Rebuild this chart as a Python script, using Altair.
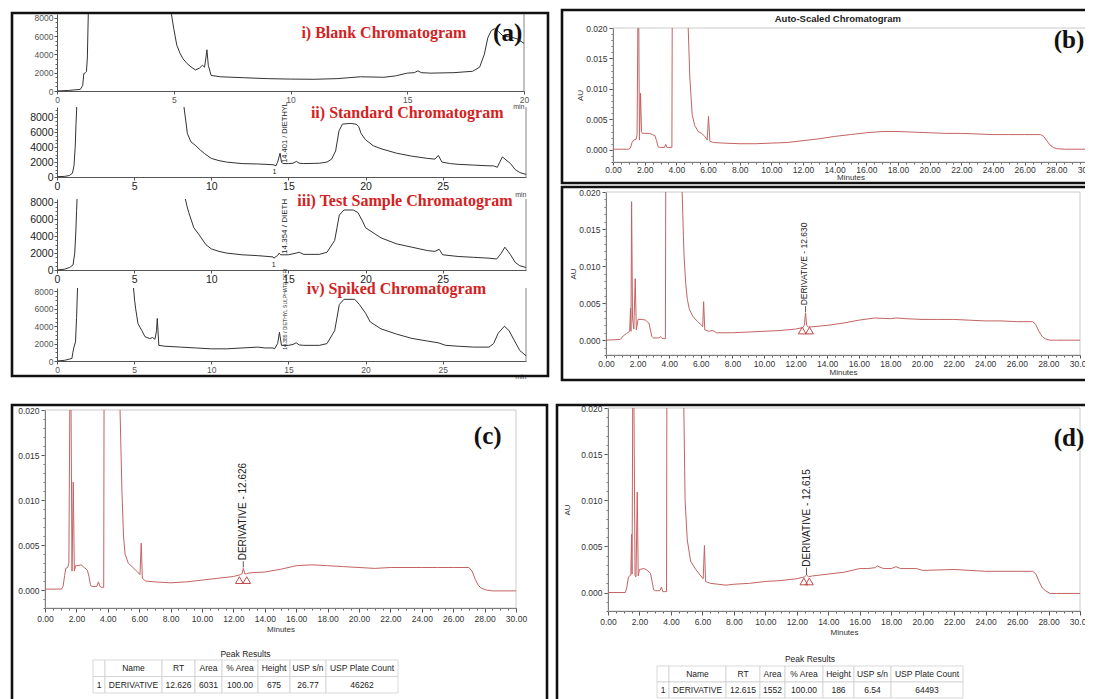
import altair as alt
import pandas as pd

OFF = 8            # page margin
W, H = 1077, 691   # whole drawing area

# ------------------------------------------------------------------ data
# (a) i) Blank chromatogram  (min, response)   None = trace leaves the plot
A1_T = [0, 0.5, 1.0, 1.1, 1.15, 1.22, 1.26, 1.3, 1.34, None,
        4.9, 5.0, 5.13, 5.27, 5.4, 5.57, 5.75, 5.93, 6.1, 6.23, 6.32, 6.37, 6.42, 6.48, 6.6,
        7, 8, 9, 10, 11, 12, 12.5, 13, 14, 14.5, 15, 15.3, 15.46, 15.6, 16, 17, 17.8,
        18.1, 18.3, 18.45, 18.6, 18.75, 18.9, 19.1, 19.4, 19.7, 20]
A1_Y = [0, 60, 180, 600, 1900, 2000, 2100, 3600, 8400, None,
        8400, 6800, 5000, 4100, 3500, 3000, 2600, 2300, 2500, 2800, 2600, 3500, 4500, 2800, 1700,
        1550, 1450, 1350, 1300, 1280, 1350, 1450, 1550, 1500, 1650, 1950, 2000, 2200, 2000, 1950, 2000, 2150,
        2600, 4000, 5800, 6600, 6800, 6500, 6000, 5900, 5700, 5200]
# (a) ii) Standard chromatogram
A2_T = [0, 0.5, 0.8, 1.0, 1.1, 1.18, 1.23, 1.28, None,
        8.23, 8.35, 8.45, 8.68, 9.0, 9.3, 9.56, 10, 10.5, 11, 12, 13, 14,
        14.19, 14.3, 14.46, 14.55, 14.64, 15, 15.3, 15.52, 15.7, 16, 17, 17.5,
        17.8, 18.06, 18.28, 18.5, 19.0, 19.38, 19.55, 19.71, 20, 20.5, 21, 22, 23, 24,
        24.5, 24.72, 24.95, 25.5, 26, 27, 28, 28.3, 28.54, 28.7, 28.87, 29.1, 29.4, 29.7, 30, 30.4]
A2_Y = [50, 80, 200, 500, 1500, 4000, 7000, 9400, None,
        9400, 7500, 5840, 4720, 4200, 3600, 3150, 2500, 2200, 2000, 1800, 1750, 1650,
        1500, 2000, 3200, 2000, 1800, 1800, 1850, 2100, 1850, 1800, 1850, 2000,
        2400, 3500, 6200, 7100, 7200, 7100, 6800, 5840, 5000, 4200, 3800, 3200, 2800, 2500,
        2400, 2900, 2000, 1800, 1700, 1600, 1500, 1500, 1300, 2000, 2700, 2300, 1800, 1000, 600, 350]
# (a) iii) Test sample chromatogram
A3_T = [0, 0.5, 0.82, 1.04, 1.15, 1.22, 1.27, 1.3, None,
        8.32, 8.42, 8.54, 8.87, 9.2, 9.65, 10, 10.5, 11, 12, 13, 14,
        14.06, 14.2, 14.3, 14.4, 14.5, 15, 15.5, 15.7, 16, 17, 17.5,
        18, 18.3, 18.6, 19.2, 19.5, 19.8, 20, 21, 22, 23, 24,
        24.5, 24.77, 25.0, 26, 27, 28, 28.5, 28.8, 29.03, 29.4, 29.7, 30, 30.4]
A3_Y = [0, 100, 300, 600, 2000, 4500, 7000, 8400, None,
        8400, 7600, 6800, 5000, 4200, 3000, 2500, 2200, 2000, 1800, 1700, 1550,
        1400, 1600, 1700, 2000, 1800, 1800, 2000, 2100, 1850, 1850, 2100,
        3500, 6500, 7100, 7100, 6800, 5800, 5000, 3800, 3100, 2700, 2300,
        2200, 2450, 1800, 1600, 1500, 1400, 1300, 2000, 2700, 1800, 900, 500, 300]
# (a) iv) Spiked chromatogram
A4_T = [0, 0.5, 0.97, 1.03, 1.1, 1.2, 1.27, 1.33, None,
        4.96, 5.03, 5.1, 5.25, 5.5, 5.7, 6.0, 6.2, 6.35, 6.45, 6.5, 6.6,
        7, 8, 9, 10, 11, 12, 13, 13.5, 14, 14.1, 14.3, 14.42, 14.55,
        15, 15.3, 15.5, 15.7, 16, 17, 17.5, 18, 18.3, 18.6, 19.3, 19.6, 20, 20.3,
        21, 22, 23, 24, 24.7, 25.2, 26, 27, 28, 28.3, 28.6, 29.0, 29.3, 29.6, 30, 30.4]
A4_Y = [0, 80, 300, 1000, 1600, 2200, 5000, 8400, None,
        8400, 7000, 6000, 4300, 3500, 2800, 2580, 2700, 2500, 3500, 4900, 1800,
        1700, 1600, 1500, 1400, 1400, 1500, 1600, 1500, 1500, 1400, 2000, 3300, 1800,
        1800, 1900, 2100, 1850, 1800, 1800, 2000, 3500, 6500, 7100, 7100, 6500, 5500, 4500,
        3700, 3100, 2600, 2300, 2100, 1800, 1700, 1600, 1600, 2000, 3200, 4000, 3500, 2500, 1200, 600]

# (b) auto-scaled chromatogram (min, AU)
B_T = [0, 1.0, 1.1, 1.2, 1.3, 1.45, 1.52, 1.57, None,
       1.63, 1.67, 1.74, 1.8, 1.86, 2.0, 2.3, 2.5, 2.65, 2.75, 2.85, 2.95, 3.25, 3.33, 3.4, 3.5, 3.72, 3.74, None,
       4.75, 4.85, 5.0, 5.16, 5.38, 5.6, 5.8, 5.95, 6.03, 6.12, 6.35, 7, 8, 9, 10, 11, 12, 13, 14, 15,
       16, 17, 18, 19, 20, 21, 22, 23, 24, 25, 26, 27, 27.2, 27.4, 27.6, 27.8, 28.0, 28.5, 30]
B_AU = [0.0001, 0.0001, 0.0003, 0.0012, 0.0016, 0.0017, 0.0025, 0.020, None,
        0.020, 0.0016, 0.0093, 0.0030, 0.0027, 0.0027, 0.0027, 0.0025, 0.0023, 0.0015, 0.0005, 0.0004, 0.0004, 0.0009, 0.0004, 0.0004, 0.0004, 0.020, None,
        0.020, 0.012, 0.0058, 0.0040, 0.0030, 0.0027, 0.0022, 0.0016, 0.0055, 0.0014, 0.0012, 0.0011, 0.0010, 0.0010, 0.0011, 0.0012, 0.0015, 0.0018, 0.0022, 0.0025,
        0.0028, 0.0030, 0.0030, 0.0029, 0.0028, 0.0027, 0.0027, 0.0026, 0.0025, 0.0025, 0.0025, 0.0025, 0.0022, 0.0015, 0.0008, 0.0004, 0.0002, 0.0001, 0.0001]
# (b) lower chromatogram with derivative peak
B2_T = [0, 0.9, 1.1, 1.3, 1.5, 1.55, 1.58, 1.62, 1.68, 1.76, 1.85, 1.92, 2.03, 2.3, 2.5, 2.6, 2.72, 2.8, 2.9, 3.0, 3.35, 3.45, 3.52, 3.6, 3.76, 3.78, None,
        4.82, 4.9, 4.95, 5.05, 5.15, 5.27, 5.5, 5.8, 6.05, 6.12, 6.18, 6.25, 6.5, 6.75, 6.85, 7, 8, 9, 10, 11, 12,
        12.45, 12.55, 12.63, 12.7, 12.8, 13, 14, 15, 16, 17, 18, 18.4, 19, 20, 21, 22, 23, 24, 25, 26, 27,
        27.2, 27.4, 27.6, 27.8, 28.1, 28.5, 30]
B2_AU = [0.0000, 0.0001, 0.0006, 0.0009, 0.0012, 0.0043, 0.0012, 0.0187, 0.0030, 0.0015, 0.0083, 0.0014, 0.0028, 0.0028, 0.0027, 0.0025, 0.0023, 0.0015, 0.0005, 0.0003, 0.0003, 0.0005, 0.0003, 0.0002, 0.0002, 0.020, None,
         0.020, 0.014, 0.011, 0.0075, 0.0055, 0.0042, 0.0032, 0.0025, 0.0020, 0.0018, 0.0052, 0.0014, 0.0012, 0.0013, 0.0012, 0.0010, 0.0010, 0.0011, 0.0012, 0.0013, 0.0015,
         0.0017, 0.0020, 0.0037, 0.0020, 0.0018, 0.0018, 0.0020, 0.0023, 0.0027, 0.0030, 0.0029, 0.0030, 0.0029, 0.0028, 0.0028, 0.0028, 0.0027, 0.0026, 0.0026, 0.0025, 0.0025,
         0.0021, 0.0012, 0.0005, 0.0002, 0.0000, 0.0000, 0.0000]
# (c)
C_T = [0, 1.05, 1.15, 1.25, 1.32, 1.45, 1.52, 1.58, None,
       1.66, 1.72, 1.8, 1.87, 1.95, 2.1, 2.3, 2.5, 2.7, 2.8, 2.9, 3.0, 3.3, 3.4, 3.5, 3.6, 3.74, 3.76, None,
       4.78, 4.9, 5.0, 5.1, 5.3, 5.6, 5.9, 6.05, 6.13, 6.2, 6.4, 7, 8, 9, 10, 11, 12,
       12.45, 12.55, 12.63, 12.72, 12.85, 13, 14, 15, 16, 17, 18, 19, 20, 21, 22, 23, 24, 25, 26, 27,
       27.2, 27.4, 27.6, 27.8, 28.1, 28.5, 30]
C_AU = [0.0001, 0.0001, 0.0004, 0.0016, 0.0024, 0.0025, 0.0030, 0.020, None,
        0.020, 0.0021, 0.0120, 0.0021, 0.0027, 0.0027, 0.0028, 0.0025, 0.0022, 0.0015, 0.0005, 0.0004, 0.0004, 0.0009, 0.0004, 0.0003, 0.0003, 0.020, None,
        0.020, 0.011, 0.006, 0.0040, 0.0030, 0.0025, 0.0020, 0.0017, 0.0052, 0.0013, 0.0010, 0.0009, 0.0008, 0.0009, 0.0011, 0.0013, 0.0015,
        0.0017, 0.0018, 0.0024, 0.0018, 0.0018, 0.0019, 0.0020, 0.0023, 0.0027, 0.0028, 0.0027, 0.0026, 0.0025, 0.0024, 0.0025, 0.0025, 0.0025, 0.0025, 0.0025, 0.0025,
        0.0021, 0.0012, 0.0005, 0.0002, 0.0000, -0.0001, -0.0001]
# (d)
D_T = [0, 1.1, 1.2, 1.3, 1.45, 1.5, 1.53, 1.57, None,
       1.65, 1.72, 1.78, 1.86, 1.92, 2.0, 2.3, 2.5, 2.7, 2.8, 2.9, 3.0, 3.3, 3.4, 3.48, 3.6, 3.72, 3.74, None,
       4.82, 4.9, 5.04, 5.25, 5.58, 5.9, 6.05, 6.13, 6.2, 6.5, 7, 7.5, 8, 9, 10, 11, 12,
       12.5, 12.62, 12.75, 13, 14, 15, 16, 16.5, 17, 17.1, 17.5, 18, 18.3, 18.6, 19, 19.6, 20, 22, 24, 26, 27,
       27.2, 27.4, 27.6, 27.8, 28.1, 28.5, 30]
D_AU = [0.0000, 0.0000, 0.0006, 0.0017, 0.0019, 0.0063, 0.0020, 0.020, None,
        0.020, 0.0018, 0.0017, 0.0109, 0.0018, 0.0025, 0.0026, 0.0024, 0.0021, 0.0012, 0.0003, 0.0002, 0.0002, 0.0006, 0.0001, 0.0001, 0.0001, 0.020, None,
        0.020, 0.010, 0.0057, 0.0034, 0.0025, 0.0018, 0.0015, 0.0051, 0.0012, 0.0010, 0.0009, 0.0008, 0.0009, 0.0010, 0.0012, 0.0013, 0.0015,
        0.0017, 0.0019, 0.0017, 0.0018, 0.0020, 0.0022, 0.0026, 0.0026, 0.0027, 0.0029, 0.0026, 0.0026, 0.0028, 0.0026, 0.0026, 0.0026, 0.0024, 0.0025, 0.0023, 0.0023, 0.0023,
        0.0020, 0.0012, 0.0005, 0.0002, -0.0001, -0.0001, -0.0001]

# peak baseline markers (triangles)
B2_MARK_T, B2_MARK_AU = [12.42, 12.88], [0.0013, 0.0013]
C_MARK_T, C_MARK_AU = [12.38, 12.85], [0.0011, 0.0011]
D_MARK_T, D_MARK_AU = [12.45, 12.80], [0.0012, 0.0012]

# peak labels
B2_LABEL, C_LABEL, D_LABEL = "DERIVATIVE - 12.630", "DERIVATIVE - 12.626", "DERIVATIVE - 12.615"
A2_LABEL, A3_LABEL, A4_LABEL = "14.401 / DIETHYL", "14.354 / DIETH", "14.385 / DIETHYL SULPHATE DERI"
A_TITLES = ["i) Blank Chromatogram", "ii) Standard Chromatogram",
            "iii) Test Sample Chromatogram", "iv) Spiked Chromatogram"]

# peak result tables
TABLE_HEAD = ["", "Name", "RT", "Area", "% Area", "Height", "USP s/n", "USP Plate Count"]
C_ROW = ["1", "DERIVATIVE", "12.626", "6031", "100.00", "675", "26.77", "46262"]
D_ROW = ["1", "DERIVATIVE", "12.615", "1552", "100.00", "186", "6.54", "64493"]

# ------------------------------------------------------------------ layout
GEOM = {
    "A1": dict(x=(0, 20), xr=(57, 524), y=(0, 8400), yr=(91, 14)),
    "A2": dict(x=(0, 30.4), xr=(57, 526), y=(0, 9400), yr=(177, 107)),
    "A3": dict(x=(0, 30.4), xr=(57, 526), y=(0, 8400), yr=(270, 199)),
    "A4": dict(x=(0, 30.4), xr=(57, 526), y=(0, 8400), yr=(361, 288)),
    "B": dict(x=(0, 30), xr=(613, 1088), y=(-0.002, 0.020), yr=(162, 28)),
    "B2": dict(x=(0, 30), xr=(606, 1080), y=(-0.002, 0.020), yr=(355, 192)),
    "C": dict(x=(0, 30), xr=(45, 516), y=(-0.002, 0.020), yr=(608, 410)),
    "D": dict(x=(0, 30), xr=(608, 1080), y=(-0.002, 0.020), yr=(611, 408)),
}
C_COLW = [12, 57, 33, 27, 36, 32, 36, 72]
D_COLW = [12, 57, 34, 25, 38, 31, 37, 72]

RED = "#c46363"
TRI = "#c04848"
DARK = "#333333"
TITLE_RED = "#d42222"
SANS = "Liberation Sans"
SERIF = "Liberation Serif"


def tdf(ts, vs):
    assert len(ts) == len(vs), (len(ts), len(vs))
    rows, seg = [], 0
    for t, v in zip(ts, vs):
        if t is None or v is None:
            assert t is None and v is None
            seg += 1
            continue
        rows.append({"t": t, "v": v, "seg": seg})
    return pd.DataFrame(rows)


def scale(dom, p0, p1):
    return alt.Scale(domain=list(dom), range=[p0 - OFF, p1 - OFF], nice=False, zero=False)


def bottom_axis(page_y, **kw):
    base = dict(orient="bottom", offset=page_y - OFF - H, grid=False)
    base.update(kw)
    return alt.Axis(**base)


def left_axis(page_x, **kw):
    base = dict(orient="left", offset=-(page_x - OFF), grid=False)
    base.update(kw)
    return alt.Axis(**base)


def scales(key):
    g = GEOM[key]
    return scale(g["x"], *g["xr"]), scale(g["y"], *g["yr"])


def text_at(label, t, v, xs, ys, **mk):
    d = pd.DataFrame({"t": [t], "v": [v], "label": [label]})
    return alt.Chart(d).mark_text(**mk).encode(
        x=alt.X("t:Q", scale=xs, axis=None),
        y=alt.Y("v:Q", scale=ys, axis=None),
        text="label:N")


layers = []

# ---------------- outer panel boxes (decoration)
BOXES = [(4, 540, 5, 368), (554, 1100, 2, 175), (554, 1100, 179, 372),
         (4, 539, 397, 710), (549, 1100, 397, 710)]
for x0, x1, y0, y1 in BOXES:
    layers.append(alt.Chart(pd.DataFrame({"k": [0]})).mark_rect(
        fill="transparent", stroke="#111111", strokeWidth=2.6).encode(
        x=alt.value(x0), x2=alt.value(x1), y=alt.value(y0), y2=alt.value(y1)))


# ---------------- panel (a)
def a_panel(key, ts, vs, xticks, fs, lcol, min_title):
    g = GEOM[key]
    xs, ys = scales(key)
    xa = bottom_axis(g["yr"][0], values=xticks, format="d", labelFontSize=fs, labelColor=lcol,
                     tickSize=3, labelPadding=1, tickColor="#555", domainColor="#555",
                     titleAnchor="end", titleFontSize=7, titleFontWeight="normal",
                     titleColor="#444", titlePadding=-1)
    ya = left_axis(g["xr"][0], values=[0, 2000, 4000, 6000, 8000], format="d", labelFontSize=fs,
                   labelColor=lcol, tickSize=3, labelPadding=1, tickColor="#555", domainColor="#555")
    ymax = g["y"][1]
    minor = [v for v in range(0, int(ymax) + 1, 500) if v % 2000]
    frame = alt.Chart(pd.DataFrame({"t": [g["x"][1]], "v": [g["y"][0]], "v2": [ymax]})).mark_rule(
        color="#666", strokeWidth=0.8).encode(
        x=alt.X("t:Q", scale=xs, axis=None),
        y=alt.Y("v:Q", scale=ys, title=None,
                axis=left_axis(g["xr"][0], values=minor, labels=False, domain=False,
                               tickSize=2, tickColor="#666")),
        y2="v2:Q")
    line = alt.Chart(tdf(ts, vs)).mark_line(color=DARK, strokeWidth=1).encode(
        x=alt.X("t:Q", scale=xs, axis=xa, title="min" if min_title else None),
        y=alt.Y("v:Q", scale=ys, axis=ya, title=None),
        detail="seg:N")
    return [frame, line], xs, ys


TITLE_MK = dict(font=SERIF, fontWeight="bold", fontSize=16, color=TITLE_RED, align="center", baseline="middle")
TAG_MK = dict(font=SERIF, fontWeight="bold", fontSize=25, color="#111111", align="center", baseline="middle")
VERT_MK = dict(font=SANS, angle=270, align="left", baseline="middle", color="#222222")

ls, xs, ys = a_panel("A1", A1_T, A1_Y, [0, 5, 10, 15, 20], 8.5, "#555", True)
layers += ls
layers.append(text_at(A_TITLES[0], 14.0, 6300, xs, ys, **TITLE_MK))
layers.append(text_at("(a)", 19.3, 6300, xs, ys, **TAG_MK))

ls, xs, ys = a_panel("A2", A2_T, A2_Y, [0, 5, 10, 15, 20, 25], 10.5, "#222", True)
layers += ls
layers.append(text_at(A_TITLES[1], 22.7, 8550, xs, ys, **TITLE_MK))
layers.append(text_at(A2_LABEL, 14.75, 1900, xs, ys, fontSize=7.5, **VERT_MK))
layers.append(text_at("1", 14.1, 700, xs, ys, font=SANS, fontSize=7, color="#222", align="center", baseline="middle"))

ls, xs, ys = a_panel("A3", A3_T, A3_Y, [0, 5, 10, 15, 20, 25], 10.5, "#222", False)
layers += ls
layers.append(text_at(A_TITLES[2], 22.55, 8150, xs, ys, **TITLE_MK))
layers.append(text_at(A3_LABEL, 14.75, 1900, xs, ys, fontSize=8, **VERT_MK))
layers.append(text_at("1", 14.05, 650, xs, ys, font=SANS, fontSize=7, color="#222", align="center", baseline="middle"))

ls, xs, ys = a_panel("A4", A4_T, A4_Y, [0, 5, 10, 15, 20, 25], 8.5, "#555", True)
layers += ls
layers.append(text_at(A_TITLES[3], 22.0, 8280, xs, ys, **TITLE_MK))
layers.append(text_at(A4_LABEL, 14.75, 1300, xs, ys, fontSize=5, **VERT_MK))


# ---------------- panels (b), (c), (d)
def au_panel(key, ts, vs, ytitle, ytitle_pad, tick=4, lpad=2, tpad=3):
    g = GEOM[key]
    xs, ys = scales(key)
    common = dict(labelFontSize=8.5, labelColor="#333", tickColor="#555", domainColor="#555",
                  titleFontSize=8, titleFontWeight="normal", titleColor="#333")
    xa = bottom_axis(g["yr"][0], values=list(range(0, 31, 2)), format=".2f", titlePadding=tpad,
                     tickSize=tick, labelPadding=lpad, **common)
    ya = left_axis(g["xr"][0], values=[0, 0.005, 0.010, 0.015, 0.020], format=".3f",
                   titlePadding=ytitle_pad, tickSize=4, labelPadding=2, **common)
    minor_x = [k * 0.5 for k in range(61) if k % 4]
    minor_y = [round(k * 0.001, 3) for k in range(-2, 21) if k % 5]
    frame = alt.Chart(pd.DataFrame({"t": [g["x"][0]], "t2": [g["x"][1]],
                                    "v": [g["y"][0]], "v2": [g["y"][1]]})).mark_rect(
        fill="transparent", stroke="#bdbdbd", strokeWidth=0.8).encode(
        x=alt.X("t:Q", scale=xs, title=None,
                axis=bottom_axis(g["yr"][0], values=minor_x, labels=False, domain=False,
                                 tickSize=2, tickColor="#666")),
        x2="t2:Q",
        y=alt.Y("v:Q", scale=ys, title=None,
                axis=left_axis(g["xr"][0], values=minor_y, labels=False, domain=False,
                               tickSize=2, tickColor="#666")),
        y2="v2:Q")
    line = alt.Chart(tdf(ts, vs)).mark_line(color=RED, strokeWidth=1).encode(
        x=alt.X("t:Q", scale=xs, axis=xa, title="Minutes"),
        y=alt.Y("v:Q", scale=ys, axis=ya, title=ytitle),
        detail="seg:N")
    return [frame, line], xs, ys


def peak_marks(mt, mv, label, lt, lv, rule_t, rule_v, fs, xs, ys):
    out = []
    out.append(alt.Chart(pd.DataFrame({"t": mt, "v": mv})).mark_point(
        shape="triangle-up", filled=False, size=60, color=TRI, strokeWidth=1, opacity=1).encode(
        x=alt.X("t:Q", scale=xs, axis=None), y=alt.Y("v:Q", scale=ys, axis=None)))
    out.append(alt.Chart(pd.DataFrame({"t": [rule_t], "v": [rule_v[0]], "v2": [rule_v[1]]})).mark_rule(
        color="#333", strokeWidth=0.8).encode(
        x=alt.X("t:Q", scale=xs, axis=None), y=alt.Y("v:Q", scale=ys, axis=None), y2="v2:Q"))
    out.append(text_at(label, lt, lv, xs, ys, fontSize=fs, **VERT_MK))
    return out


ls, xs, ys = au_panel("B", B_T, B_AU, "AU", 1, tick=3, lpad=0, tpad=0)
layers += ls
layers.append(text_at("Auto-Scaled Chromatogram", 14.2, 0.0215, xs, ys, font=SANS, fontWeight="bold",
                      fontSize=9.5, color="#222", align="center", baseline="middle"))
layers.append(text_at("(b)", 28.8, 0.0180, xs, ys, **TAG_MK))

ls, xs, ys = au_panel("B2", B2_T, B2_AU, "AU", 1, tick=3, lpad=1, tpad=1)
layers += ls
layers += peak_marks(B2_MARK_T, B2_MARK_AU, B2_LABEL, 12.55, 0.0047, 12.63, (0.0038, 0.0046), 8.5, xs, ys)

ls, xs, ys = au_panel("C", C_T, C_AU, None, 1)
layers += ls
layers += peak_marks(C_MARK_T, C_MARK_AU, C_LABEL, 12.6, 0.0033, 12.63, (0.0025, 0.0032), 10, xs, ys)
layers.append(text_at("(c)", 28.2, 0.0171, xs, ys, **TAG_MK))

ls, xs, ys = au_panel("D", D_T, D_AU, "AU", 9)
layers += ls
layers += peak_marks(D_MARK_T, D_MARK_AU, D_LABEL, 12.65, 0.0028, 12.62, (0.0019, 0.0027), 10, xs, ys)
layers.append(text_at("(d)", 29.3, 0.01675, xs, ys, **TAG_MK))


# ---------------- peak result tables
def table(head, row, widths, left, top, bottom, title_row):
    total = sum(widths)
    edges = [sum(widths[:i]) for i in range(len(widths) + 1)]
    cells = []
    for i, (h, r) in enumerate(zip(head, row)):
        for ri, txt in ((0, h), (1, r)):
            cells.append({"x0": edges[i], "x1": edges[i + 1], "r0": ri, "r1": ri + 1,
                          "xc": (edges[i] + edges[i + 1]) / 2, "rc": ri + 0.5, "label": txt})
    df = pd.DataFrame(cells)
    xs = alt.Scale(domain=[0, total], range=[left - OFF, left + total - OFF], nice=False, zero=False)
    ys = alt.Scale(domain=[0, 2], range=[top - OFF, bottom - OFF], nice=False, zero=False)
    rect = alt.Chart(df).mark_rect(fill="white", stroke="#cfcfcf", strokeWidth=0.8).encode(
        x=alt.X("x0:Q", scale=xs, axis=None), x2="x1:Q",
        y=alt.Y("r0:Q", scale=ys, axis=None), y2="r1:Q")
    txt = alt.Chart(df).mark_text(font=SANS, fontSize=8.5, color="#222", align="center",
                                  baseline="middle").encode(
        x=alt.X("xc:Q", scale=xs, axis=None), y=alt.Y("rc:Q", scale=ys, axis=None), text="label:N")
    ttl = text_at("Peak Results", total / 2, title_row, xs, ys, font=SANS, fontSize=8.5,
                  color="#222", align="center", baseline="middle")
    return [rect, txt, ttl]


layers += table(TABLE_HEAD, C_ROW, C_COLW, 93, 660, 693, -0.38)
layers += table(TABLE_HEAD, D_ROW, D_COLW, 657, 666, 698, -0.45)

chart = alt.layer(*layers).resolve_scale(
    x="independent", y="independent"
).resolve_axis(
    x="independent", y="independent"
).properties(
    width=W, height=H, padding=0, autosize=alt.AutoSizeParams(type="none"), background="white"
).configure_view(stroke=None).configure_axis(
    labelFont=SANS, titleFont=SANS, grid=False, labelFlush=False, labelOverlap=False
)

chart.save("out.html", embed_options={"renderer": "svg", "actions": False})
